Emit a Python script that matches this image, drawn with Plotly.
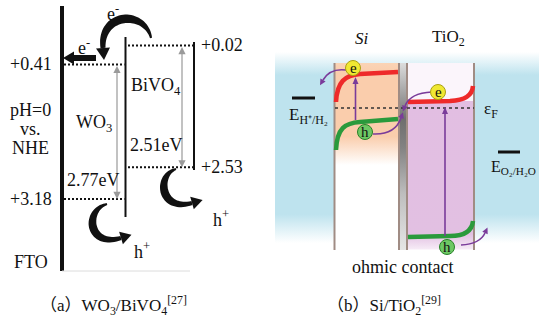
import math
import plotly.graph_objects as go

# ---------------- data ----------------
materials_a = ["WO<sub>3</sub>", "BiVO<sub>4</sub>"]
cb_a = [0.41, 0.02]          # conduction-band edge (V vs. NHE, pH=0)
vb_a = [3.18, 2.53]          # valence-band edge
gap_labels_a = ["2.77eV", "2.51eV"]
materials_b = ["<i>Si</i>", "TiO<sub>2</sub>"]
captions = ["（a）WO<sub>3</sub>/BiVO<sub>4</sub><sup>[27]</sup>",
            "（b）Si/TiO<sub>2</sub><sup>[29]</sup>"]

# ---------------- geometry / style ----------------
W, H = 539, 331
E0_PX, PX_PER_EV = 44.5, 48.56          # energy axis scale for panel (a)
FONT = "Liberation Serif, Times New Roman, serif"
BLK = "#111111"
PURPLE = "#7a3b9a"
RED = "#ee2a2a"
GREEN = "#2a9a3c"
COLLINE = "rgb(160,140,132)"
FA = 18   # panel (a) text size

shapes, annos, traces = [], [], []


def P(x, y):
    return f"{x:.1f},{y:.1f}"


def head(tip_base, d, length, width, color):
    (bx, by), (dx, dy) = tip_base, d
    n = math.hypot(dx, dy)
    dx, dy = dx / n, dy / n
    tx, ty = bx + dx * length, by + dy * length
    nx, ny = -dy, dx
    path = f"M{P(tx, ty)} L{P(bx + nx * width / 2, by + ny * width / 2)} L{P(bx - nx * width / 2, by - ny * width / 2)} Z"
    shapes.append(dict(type="path", path=path, xref="x", yref="y",
                       fillcolor=color, line=dict(width=0)))


def taper_arrow(p0, c1, c2, p1, w0, wm, w1, hl, hw, color=BLK, n=40):
    """filled crescent-shaped body following a cubic bezier, plus a triangular head"""
    left, right = [], []
    for k in range(n + 1):
        t = k / n
        u = 1 - t
        bx = u**3 * p0[0] + 3 * u * u * t * c1[0] + 3 * u * t * t * c2[0] + t**3 * p1[0]
        by = u**3 * p0[1] + 3 * u * u * t * c1[1] + 3 * u * t * t * c2[1] + t**3 * p1[1]
        dx = 3 * u * u * (c1[0] - p0[0]) + 6 * u * t * (c2[0] - c1[0]) + 3 * t * t * (p1[0] - c2[0])
        dy = 3 * u * u * (c1[1] - p0[1]) + 6 * u * t * (c2[1] - c1[1]) + 3 * t * t * (p1[1] - c2[1])
        L = math.hypot(dx, dy) or 1
        nx, ny = -dy / L, dx / L
        w = w0 * u + w1 * t + (wm - (w0 + w1) / 2) * math.sin(math.pi * t)
        left.append((bx + nx * w / 2, by + ny * w / 2))
        right.append((bx - nx * w / 2, by - ny * w / 2))
    pts = left + right[::-1]
    path = "M" + " L".join(P(*q) for q in pts) + " Z"
    shapes.append(dict(type="path", path=path, xref="x", yref="y",
                       fillcolor=color, line=dict(width=0)))
    head(p1, (p1[0] - c2[0], p1[1] - c2[1]), hl, hw, color)


def thin_q(p0, c, p1, color=PURPLE, lw=1.6):
    path = f"M{P(*p0)} Q{P(*c)} {P(*p1)}"
    shapes.append(dict(type="path", path=path, xref="x", yref="y",
                       line=dict(color=color, width=lw)))
    head(p1, (p1[0] - c[0], p1[1] - c[1]), 6, 6, color)


def text(x, y, s, size=FA, xanchor="center", yref="y", color=BLK, family=FONT):
    annos.append(dict(x=x, y=y, xref="x", yref=yref, text=s, showarrow=False,
                      xanchor=xanchor, yanchor="middle",
                      font=dict(family=family, size=size, color=color)))


def rect_fill(x0, x1, y0, y1, colorscale=None, color=None):
    """colorscale positions run from y0 (top) to y1 (bottom)"""
    tr = go.Scatter(x=[x0, x1, x1, x0, x0], y=[y0, y0, y1, y1, y0], mode="lines",
                    line=dict(width=0), fill="toself", hoverinfo="skip", showlegend=False)
    if colorscale is not None:
        flipped = [[round(1 - p, 4), c] for p, c in reversed(colorscale)]
        tr.fillgradient = dict(type="vertical", colorscale=flipped)
    else:
        tr.fillcolor = color
    traces.append(tr)


# ================= panel (a) =================
fto_x = 62
col_right = [125.5, 194]
dot_x = [(64, 124.5), (128, 193)]
gap_x = [117, 182]
right_line_y = [(37, 217), (42, 170)]

shapes.append(dict(type="line", x0=fto_x, x1=fto_x, y0=6, y1=271, xref="x", yref="y",
                   line=dict(color=BLK, width=4)))
shapes.append(dict(type="line", x0=fto_x, x1=190, y0=271, y1=271, xref="x", yref="y",
                   line=dict(color="rgb(220,220,220)", width=1)))
for i in range(2):
    shapes.append(dict(type="line", x0=col_right[i], x1=col_right[i],
                       y0=right_line_y[i][0], y1=right_line_y[i][1], xref="x", yref="y",
                       line=dict(color=BLK, width=2)))
    for e in (cb_a[i], vb_a[i]):
        shapes.append(dict(type="line", x0=dot_x[i][0], x1=dot_x[i][1], y0=e, y1=e,
                           xref="x", yref="y2", line=dict(color=BLK, width=2, dash="2px,2px")))
    annos.append(dict(x=gap_x[i], y=vb_a[i], ax=gap_x[i], ay=cb_a[i], xref="x", yref="y2",
                      axref="x", ayref="y2", text="", showarrow=True, arrowside="end+start",
                      arrowhead=2, arrowsize=1.2, arrowwidth=1.2, arrowcolor="#9a9a9a"))

# level labels
text(54, cb_a[0], f"+{cb_a[0]:.2f}", xanchor="right", yref="y2")
text(54, vb_a[0], f"+{vb_a[0]:.2f}", xanchor="right", yref="y2")
text(199, cb_a[1], f"+{cb_a[1]:.2f}", xanchor="left", yref="y2")
text(199, vb_a[1], f"+{vb_a[1]:.2f}", xanchor="left", yref="y2")
text(30, 110, "pH=0")
text(30, 129, "vs.")
text(30, 148, "NHE")
text(31, 262, "FTO")
text(74, 123, materials_a[0], xanchor="left")
text(129, 86, materials_a[1], xanchor="left")
text(128, 145, gap_labels_a[1], xanchor="left")
text(65, 180, gap_labels_a[0], xanchor="left")
text(113, 12, "e<sup>-</sup>")
text(84, 46, "e<sup>-</sup>")
text(132, 250, "h<sup>+</sup>", xanchor="left")
text(211, 218, "h<sup>+</sup>", xanchor="left")

# black arrows
taper_arrow((151, 38), (145, 10), (100, 12), (103, 48), 2, 8.5, 5, 12, 14)
shapes.append(dict(type="line", x0=96, x1=74, y0=58, y1=58, xref="x", yref="y",
                   line=dict(color=BLK, width=6)))
head((74, 58), (-1, 0), 11, 13, BLK)
taper_arrow((107, 204), (84, 210), (88, 248), (121, 238), 2, 8, 4, 11, 13)
taper_arrow((176, 169), (156, 175), (160, 212), (192, 203), 2, 8, 4, 11, 13)

# ================= panel (b) =================
col_top, col_bot = 63, 250
si_x = (334.5, 399)
ti_x = (407, 474)

blue = "190,227,238"
rect_fill(275, 539, 52, 243, colorscale=[[0, f"rgba({blue},0)"], [0.12, f"rgba({blue},1)"],
                                        [0.85, f"rgba({blue},1)"], [1, f"rgba({blue},0)"]])
rect_fill(si_x[0], si_x[1], col_top, col_bot, color="white")
rect_fill(si_x[0], si_x[1], col_top, 165, colorscale=[[0, "rgb(250,212,182)"], [0.1, "rgb(250,205,172)"],
                                                     [0.72, "rgb(250,205,172)"], [1, "rgba(250,205,172,0)"]])
rect_fill(ti_x[0], ti_x[1], col_top, col_bot, color="rgb(251,245,251)")
rect_fill(ti_x[0], ti_x[1], 101, 249, colorscale=[[0, "rgb(226,190,226)"], [0.9, "rgb(226,192,226)"],
                                                 [1, "rgba(226,192,226,0.2)"]])
rect_fill(si_x[1], ti_x[0], col_top, col_bot,
          colorscale=[[0, "rgb(220,220,220)"], [0.2, "rgb(150,150,150)"], [0.3, "rgb(110,110,110)"],
                      [0.45, "rgb(130,130,130)"], [0.7, "rgb(190,190,190)"], [1, "rgb(230,230,230)"]])

for xv in (*si_x, *ti_x):
    shapes.append(dict(type="line", x0=xv, x1=xv, y0=col_top, y1=col_bot, xref="x", yref="y",
                       line=dict(color=COLLINE, width=2)))

# Fermi level
shapes.append(dict(type="line", x0=335, x1=474, y0=108, y1=108, xref="x", yref="y",
                   line=dict(color="#333", width=1.5, dash="3px,3px")))

# redox bars
shapes.append(dict(type="line", x0=292, x1=315, y0=98, y1=98, xref="x", yref="y",
                   line=dict(color=BLK, width=3)))
shapes.append(dict(type="line", x0=498, x1=520, y0=152, y1=152, xref="x", yref="y",
                   line=dict(color=BLK, width=3)))

# band curves
bands = [
    ("M336,102 C337,82 345,75 360,74 L398,72", RED),
    ("M336,150 C337,128 345,123 360,122 L398,119", GREEN),
    ("M408,102 L450,101 C465,100 472,96 473,86", RED),
    ("M408,237 L450,236 C465,236 472,231 473,221", GREEN),
]
for pth, col in bands:
    shapes.append(dict(type="path", path=pth, xref="x", yref="y", line=dict(color=col, width=4.5)))

# excitation arrows
shapes.append(dict(type="line", x0=355.5, x1=355.5, y0=120, y1=84, xref="x", yref="y",
                   line=dict(color=PURPLE, width=1.6)))
head((355.5, 84), (0, -1), 7, 6, PURPLE)
shapes.append(dict(type="line", x0=445, x1=445, y0=236, y1=114, xref="x", yref="y",
                   line=dict(color=PURPLE, width=1.6)))
head((445, 114), (0, -1), 7, 6, PURPLE)

# carrier transfer arrows
thin_q((346, 70), (330, 68), (323, 80))
thin_q((373, 134), (395, 135), (401, 118))
thin_q((432, 92), (410, 93), (405, 106))
thin_q((461, 245), (480, 244), (485, 233))

# carriers
carriers = [(353, 68, "e", "rgb(240,232,50)", "rgb(170,160,20)"),
            (365, 132, "h", "rgb(110,200,100)", "rgb(40,130,40)"),
            (438, 92, "e", "rgb(240,232,50)", "rgb(170,160,20)"),
            (447, 247, "h", "rgb(110,200,100)", "rgb(40,130,40)")]
for cx, cy, lab, fc, lc in carriers:
    r = 7.5
    shapes.append(dict(type="circle", x0=cx - r, x1=cx + r, y0=cy - r, y1=cy + r, xref="x", yref="y",
                       fillcolor=fc, line=dict(color=lc, width=1)))
    text(cx, cy - 0.5, lab, size=15)

text(362, 38, materials_b[0], size=17)
text(448, 38, materials_b[1], size=17)
text(287, 116, "E<sub>H⁺/H₂</sub>", size=17, xanchor="left")
text(482, 110, "ε<sub>F</sub>", size=17, xanchor="left")
text(489, 167, "E<sub>O₂/H₂O</sub>", size=16, xanchor="left")
text(402, 267, "ohmic contact", size=18)

# captions
CAP_FONT = "Liberation Serif, Noto Sans CJK SC, serif"
text(113, 305, captions[0], size=17, family=CAP_FONT)
text(384, 305, captions[1], size=17, family=CAP_FONT)

fig = go.Figure(traces)
fig.update_layout(
    width=W, height=H, margin=dict(l=0, r=0, t=0, b=0),
    paper_bgcolor="white", plot_bgcolor="white", showlegend=False,
    xaxis=dict(range=[0, W], visible=False, fixedrange=True),
    yaxis=dict(range=[H, 0], visible=False, fixedrange=True),
    yaxis2=dict(range=[(H - E0_PX) / PX_PER_EV, -E0_PX / PX_PER_EV], overlaying="y",
                visible=False, fixedrange=True),
    shapes=shapes, annotations=annos,
)
fig.write_html("out.html", config={"displayModeBar": False},
               post_script="document.body.style.margin='0';document.body.style.padding='0';")
